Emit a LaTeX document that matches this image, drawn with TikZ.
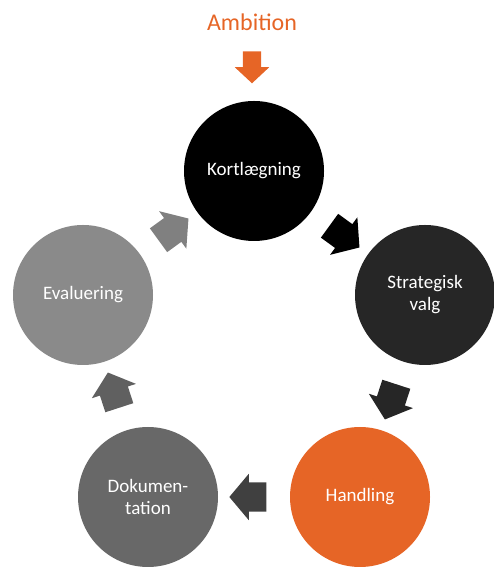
\documentclass[tikz,border=0pt]{standalone}
\usepackage{fontspec}
\setmainfont{Carlito}
\usetikzlibrary{shapes.arrows,positioning,calc}
\definecolor{ambi}{RGB}{230,101,38}
\definecolor{ink1}{RGB}{38,38,38}
\definecolor{ink2}{RGB}{64,64,64}
\definecolor{ink3}{RGB}{96,96,96}
\definecolor{ink4}{RGB}{104,104,104}
\definecolor{ink5}{RGB}{128,128,128}
\definecolor{ink6}{RGB}{138,138,138}

\begin{document}
\begin{tikzpicture}[x=1pt,y=1pt,
  ph/.style={circle,minimum size=140pt,inner sep=0pt,text=white,align=center,font=\fontsize{19}{22}\selectfont},
  arr/.style={single arrow,minimum height=37pt,inner xsep=0pt,inner ysep=14.5pt,single arrow head extend=8.5pt,single arrow tip angle=100},
  amb/.style={text=ambi,font=\fontsize{24}{28}\selectfont}]
\useasboundingbox (0,0) rectangle (493,569);
\node[amb] (amb) at (252,547) {Ambition};
\node[arr,fill=ambi,rotate=-90,minimum height=32pt,inner ysep=9pt,single arrow head extend=8pt,single arrow tip angle=94] (a0) at (252,506) {};
\node[ph,fill=black] (k) at (254,398) {Kortlægning};
\node[ph,fill=ink1] (s) at (425,274) {Strategisk\\valg};
\node[ph,fill=ambi] (h) at (360,72) {Handling};
\node[ph,fill=ink4] (d) at (148,72) {Dokumen-\\tation};
\node[ph,fill=ink6] (e) at (83,274) {Evaluering};
\node[arr,fill=black,rotate=-36] (a1) at ($(k)!.5!(s)$) {};
\node[arr,fill=ink1,rotate=-108] (a2) at ($(s)!.5!(h)$) {};
\node[arr,fill=ink2,rotate=180] (a3) at ($(h)!.5!(d)$) {};
\node[arr,fill=ink3,rotate=108] (a4) at ($(d)!.5!(e)$) {};
\node[arr,fill=ink5,rotate=36] (a5) at ($(e)!.5!(k)$) {};
\end{tikzpicture}
\end{document}
